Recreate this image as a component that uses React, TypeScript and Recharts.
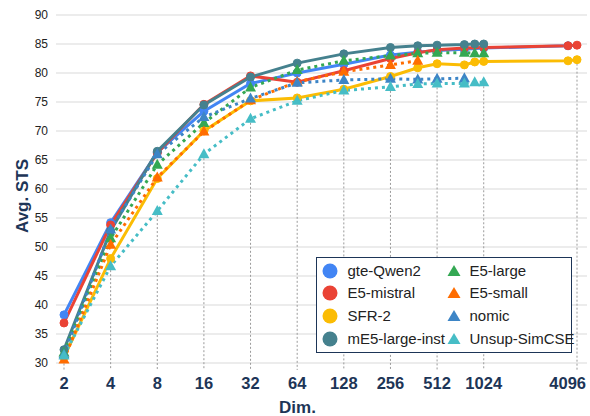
import {
  LineChart,
  Line,
  XAxis,
  YAxis,
  CartesianGrid,
  ReferenceLine,
  Legend,
  Label,
} from "recharts";

// x ticks (log2 spaced) and y ticks
const X_TICKS = [2, 4, 8, 16, 32, 64, 128, 256, 512, 1024, 4096];
const Y_TICKS = [30, 35, 40, 45, 50, 55, 60, 65, 70, 75, 80, 85, 90];

const GTE_QWEN2_DIMS = [2, 4, 8, 16, 32, 64, 128, 256, 384, 512, 768, 1024, 3584];
const GTE_QWEN2_STS = [38.3, 54.2, 66.3, 73.4, 78.2, 80.0, 81.5, 83.1, 83.6, 83.9, 84.1, 84.3, 84.7];

const E5_MISTRAL_DIMS = [2, 4, 8, 16, 32, 64, 128, 256, 384, 512, 768, 1024, 3584, 4096];
const E5_MISTRAL_STS = [36.9, 53.8, 66.2, 74.6, 79.5, 78.4, 80.4, 82.5, 83.5, 84.0, 84.3, 84.4, 84.7, 84.8];

const SFR2_DIMS = [2, 4, 8, 16, 32, 64, 128, 256, 384, 512, 768, 896, 1024, 3584, 4096];
const SFR2_STS = [31.0, 48.0, 61.8, 70.0, 75.2, 75.7, 77.2, 79.4, 80.9, 81.6, 81.4, 81.9, 82.0, 82.1, 82.3];

const ME5_DIMS = [2, 4, 8, 16, 32, 64, 128, 256, 384, 512, 768, 896, 1024];
const ME5_STS = [32.3, 52.8, 66.5, 74.5, 79.3, 81.7, 83.3, 84.4, 84.7, 84.8, 84.9, 85.0, 85.0];

const E5_LARGE_DIMS = [2, 4, 8, 16, 32, 64, 128, 256, 384, 512, 768, 896, 1024];
const E5_LARGE_STS = [31.8, 51.5, 64.2, 71.4, 77.5, 80.5, 82.1, 83.0, 83.4, 83.5, 83.5, 83.4, 83.4];

const E5_SMALL_DIMS = [2, 4, 8, 16, 32, 64, 128, 256, 384];
const E5_SMALL_STS = [30.6, 50.4, 62.0, 69.9, 75.3, 78.5, 80.2, 81.4, 82.1];

const NOMIC_DIMS = [2, 4, 8, 16, 32, 64, 128, 256, 384, 512, 768];
const NOMIC_STS = [31.5, 53.0, 66.0, 72.4, 75.6, 78.3, 78.8, 79.0, 78.9, 79.0, 79.1];

const SIMCSE_DIMS = [2, 4, 8, 16, 32, 64, 128, 256, 384, 512, 768, 896, 1024];
const SIMCSE_STS = [31.3, 46.7, 56.2, 66.0, 72.1, 75.2, 77.0, 77.6, 78.1, 78.2, 78.2, 78.4, 78.4];

type Shape = "circle" | "triangle";

interface Series {
  name: string;
  color: string;
  shape: Shape;
  data: { dim: number; sts: number }[];
}

function toData(dims: number[], values: number[]) {
  return dims.map((dim, i) => ({ dim, sts: values[i] }));
}

const SERIES: Series[] = [
  { name: "gte-Qwen2", color: "#4285f4", shape: "circle", data: toData(GTE_QWEN2_DIMS, GTE_QWEN2_STS) },
  { name: "E5-mistral", color: "#ea4335", shape: "circle", data: toData(E5_MISTRAL_DIMS, E5_MISTRAL_STS) },
  { name: "SFR-2", color: "#fbbc04", shape: "circle", data: toData(SFR2_DIMS, SFR2_STS) },
  { name: "mE5-large-inst", color: "#45818e", shape: "circle", data: toData(ME5_DIMS, ME5_STS) },
  { name: "E5-large", color: "#34a853", shape: "triangle", data: toData(E5_LARGE_DIMS, E5_LARGE_STS) },
  { name: "E5-small", color: "#ff6d01", shape: "triangle", data: toData(E5_SMALL_DIMS, E5_SMALL_STS) },
  { name: "nomic", color: "#3d85c6", shape: "triangle", data: toData(NOMIC_DIMS, NOMIC_STS) },
  { name: "Unsup-SimCSE", color: "#46bdc6", shape: "triangle", data: toData(SIMCSE_DIMS, SIMCSE_STS) },
];

// drop lines run from the lowest point at each tick down past the axis
const DROP_BOTTOM = 28.8;
const dropLines = X_TICKS.map((t) => {
  const vals = SERIES.flatMap((s) => s.data.filter((d) => d.dim === t).map((d) => d.sts));
  return { dim: t, low: Math.min(...vals) };
});

const NAVY = "#1d3557";
const FONT = "'Liberation Sans', Arial, sans-serif";
const LAST_TICK = X_TICKS[X_TICKS.length - 1];

function triangleDot(color: string) {
  return (props: any) => {
    const { cx, cy, index } = props;
    if (cx == null || cy == null) return <g key={`t-${index}`} />;
    return (
      <polygon
        key={`t-${index}`}
        points={`${cx},${cy - 6} ${cx + 5.5},${cy + 4} ${cx - 5.5},${cy + 4}`}
        fill={color}
      />
    );
  };
}

// last label is kept inside the chart, like the sheet does
function XTick(props: any) {
  const { x, y, payload } = props;
  const last = payload.value === LAST_TICK;
  return (
    <text
      x={last ? x + 9 : x}
      y={y}
      dy="0.71em"
      textAnchor={last ? "end" : "middle"}
      fill={NAVY}
      fontSize={16.5}
      fontWeight={700}
    >
      {payload.value}
    </text>
  );
}

function LegendIcon({ shape, color }: { shape: Shape; color: string }) {
  return (
    <svg width={16} height={16} style={{ display: "block" }}>
      {shape === "circle" ? (
        <circle cx={8} cy={8} r={7.5} fill={color} />
      ) : (
        <polygon points="8,2 14.5,13 1.5,13" fill={color} />
      )}
    </svg>
  );
}

const ROW_TOPS = [13, 35, 57.5, 81];

function LegendBox() {
  return (
    <div
      style={{
        position: "relative",
        width: 256,
        height: 96,
        boxSizing: "border-box",
        border: `1.5px solid ${NAVY}`,
        background: "#fff",
        fontFamily: FONT,
        fontSize: 15,
        color: "#222",
      }}
    >
      {SERIES.map((s, i) => {
        const col = i < 4 ? 0 : 1;
        const row = i % 4;
        const iconX = col === 0 ? 13 : 136.5;
        const textX = col === 0 ? 30.5 : 152.5;
        const cy = ROW_TOPS[row];
        return (
          <div key={s.name}>
            <div style={{ position: "absolute", left: iconX - 8, top: cy - 8 }}>
              <LegendIcon shape={s.shape} color={s.color} />
            </div>
            <div
              style={{
                position: "absolute",
                left: textX,
                top: cy - 9,
                lineHeight: "18px",
                whiteSpace: "nowrap",
              }}
            >
              {s.name}
            </div>
          </div>
        );
      })}
    </div>
  );
}

export default function App() {
  return (
    <div
      style={{
        position: "absolute",
        left: 0,
        top: 0,
        width: 590,
        height: 416,
        background: "#fff",
        fontFamily: FONT,
      }}
    >
      <LineChart width={590} height={416} margin={{ top: 15, right: 3, left: 0, bottom: 0 }}>
        <CartesianGrid horizontal vertical={false} stroke="#d9d9d9" strokeWidth={1} />
        <XAxis
          dataKey="dim"
          type="number"
          scale="log"
          domain={[1.776, 4752]}
          allowDataOverflow
          ticks={X_TICKS}
          interval={0}
          axisLine={false}
          tickLine={false}
          tickMargin={8}
          height={53}
          tick={<XTick />}
        >
          <Label
            value="Dim."
            position="insideBottom"
            offset={3}
            dx={-24}
            style={{ fill: NAVY, fontSize: 17, fontWeight: 700 }}
          />
        </XAxis>
        <YAxis
          type="number"
          domain={[30, 90]}
          ticks={Y_TICKS}
          width={56}
          axisLine={false}
          tickLine={false}
          tick={{ fill: "#222", fontSize: 12 }}
        >
          <Label
            value="Avg. STS"
            angle={-90}
            position="center"
            dx={-6}
            dy={7}
            style={{ fill: NAVY, fontSize: 17, fontWeight: 700 }}
          />
        </YAxis>
        {dropLines.map((d) => (
          <ReferenceLine
            key={`drop-${d.dim}`}
            segment={[
              { x: d.dim, y: d.low },
              { x: d.dim, y: DROP_BOTTOM },
            ]}
            ifOverflow="visible"
            stroke="#9a9a9a"
            strokeDasharray="2 2"
            strokeWidth={1}
          />
        ))}
        {SERIES.map((s) => (
          <Line
            key={s.name}
            data={s.data}
            dataKey="sts"
            name={s.name}
            type="linear"
            stroke={s.color}
            strokeWidth={3}
            strokeDasharray={s.shape === "triangle" ? "3 4" : undefined}
            dot={
              s.shape === "circle"
                ? { r: 4, fill: s.color, stroke: s.color, strokeWidth: 1 }
                : triangleDot(s.color)
            }
            activeDot={false}
            isAnimationActive={false}
          />
        ))}
        <Legend
          layout="horizontal"
          verticalAlign="middle"
          align="center"
          content={() => <LegendBox />}
          wrapperStyle={{ position: "absolute", left: 316, top: 257, width: 256, height: 96 }}
        />
      </LineChart>
    </div>
  );
}
